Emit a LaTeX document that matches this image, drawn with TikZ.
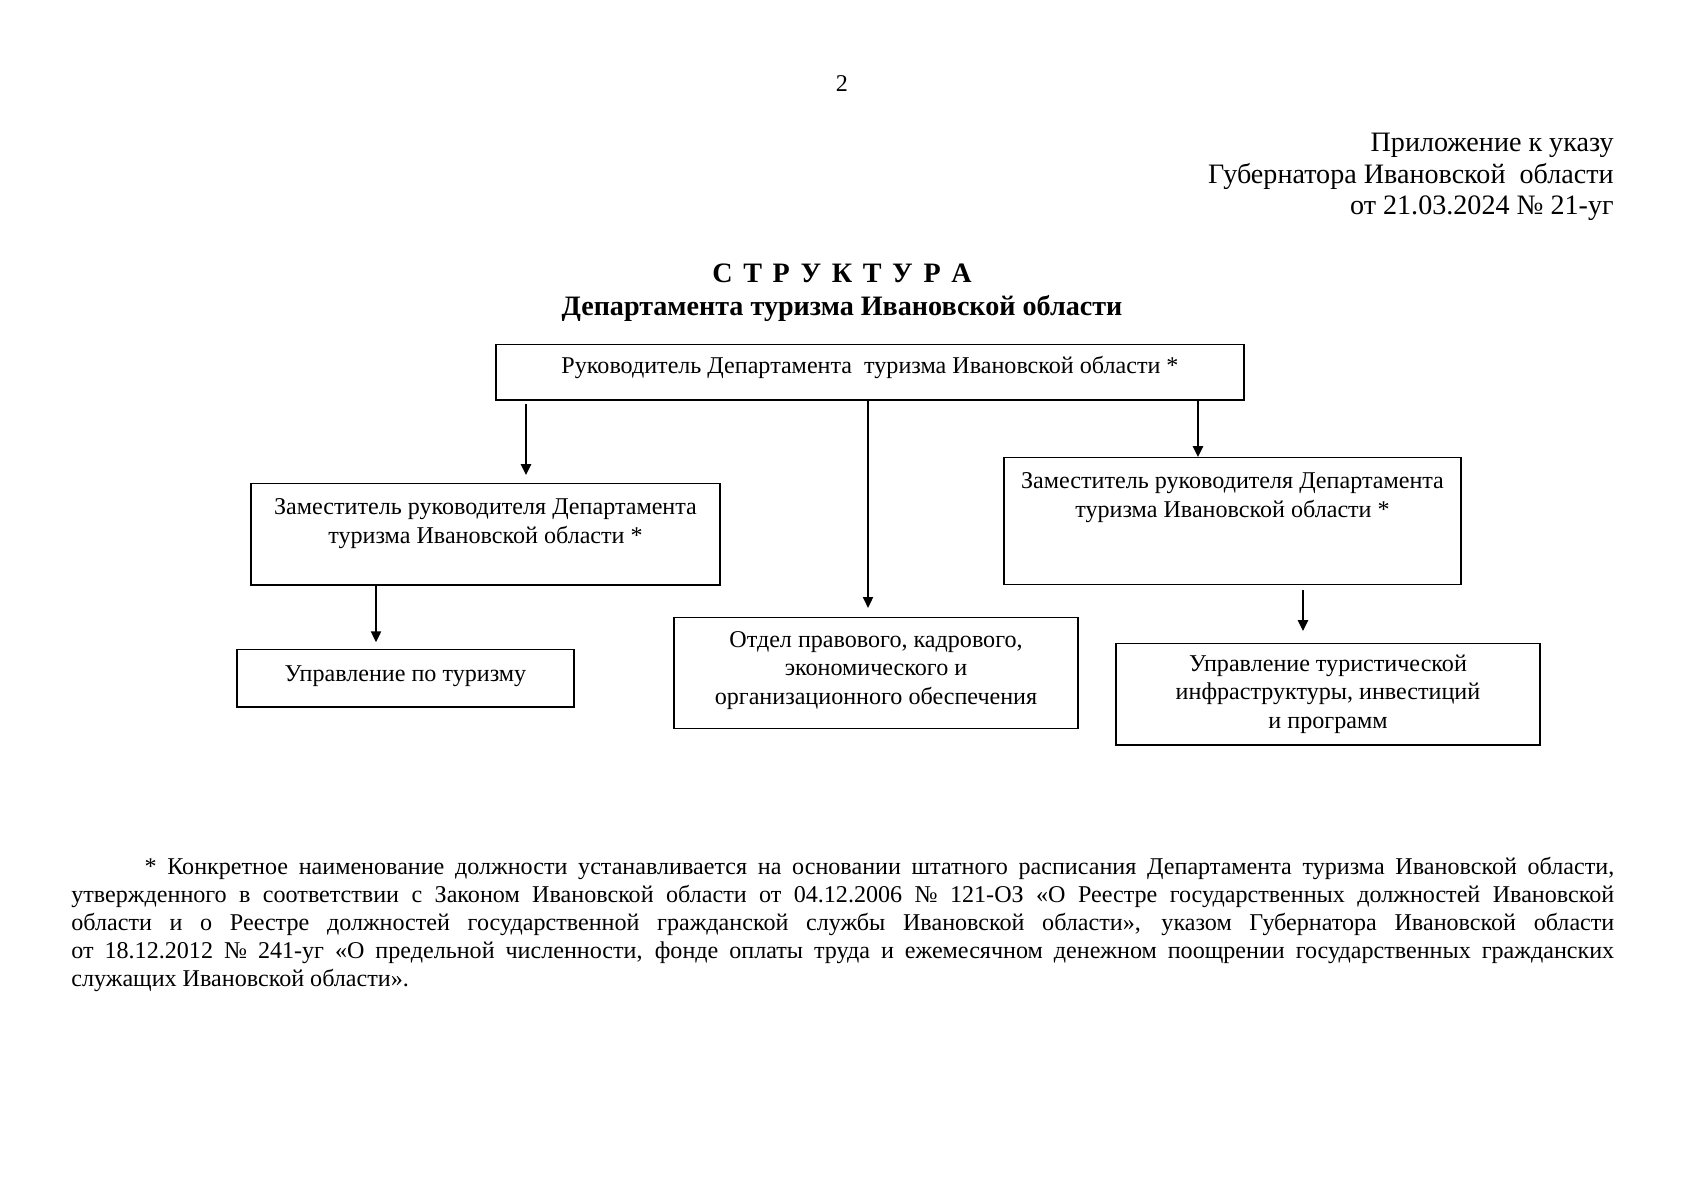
\documentclass[tikz,border=0pt]{standalone}
\usepackage{fontspec}
\setmainfont{Liberation Serif}
\usetikzlibrary{arrows.meta}
\begin{document}
\begin{tikzpicture}[x=0.175mm,y=-0.175mm,
		box/.style={draw, line width=0.7pt, anchor=north, align=center, inner sep=0pt, font=\fontsize{12}{14.3}\selectfont},
		arr/.style={-{Triangle[length=1.9mm,width=1.8mm]}, line width=0.7pt}]
			\useasboundingbox (0,0) rectangle (1697,1200);
			\node[font=\fontsize{12}{14}\selectfont] (pnum) at (842,84) {2};
			\node[anchor=base east, inner sep=0pt, font=\fontsize{14}{16}\selectfont] (app1) at (1614,151) {Приложение к указу};
			\node[anchor=base east, inner sep=0pt, font=\fontsize{14}{16}\selectfont] (app2) at (1614,183) {Губернатора Ивановской\ \ области};
			\node[anchor=base east, inner sep=0pt, font=\fontsize{14}{16}\selectfont] (app3) at (1614,214) {от 21.03.2024 № 21-уг};
			\node[anchor=base, inner sep=0pt, font=\fontsize{14}{16}\selectfont\bfseries] (title1) at (842,282) {{\spaceskip=5.3pt С Т Р У К Т У Р А}};
			\node[anchor=base, inner sep=0pt, font=\fontsize{14}{16}\selectfont\bfseries] (title2) at (842,315) {Департамента туризма Ивановской области};
			\node[box, minimum width=130.9mm, minimum height=9.7mm, text depth=8pt] (head) at (870,344) {Руководитель Департамента\ \ туризма Ивановской области *};
			\node[box, minimum width=82.1mm, minimum height=17.7mm] (dep1) at (485.5,483) {Заместитель руководителя Департамента\\туризма Ивановской области *\\[-1pt]\mbox{}};
			\node[box, minimum width=80mm, minimum height=22.2mm] (dep2) at (1232.5,457) {Заместитель руководителя Департамента\\туризма Ивановской области *\\[12pt]\mbox{}};
			\node[box, minimum width=59mm, minimum height=10mm, text depth=5pt] (tour) at (405.5,649) {Управление по туризму};
			\node[box, minimum width=70.7mm, minimum height=19.4mm] (dept) at (876,617) {Отдел правового, кадрового,\\экономического и\\организационного обеспечения\\[-9pt]\mbox{}};
			\node[box, minimum width=74.2mm, minimum height=17.7mm] (infra) at (1328,643) {Управление туристической\\инфраструктуры, инвестиций\\и программ};
			\coordinate (ax1) at (526,0);
			\coordinate (ax2) at (868,0);
			\coordinate (ax3) at (1198,0);
			\coordinate (ax4) at (376,0);
			\coordinate (ax5) at (1303,0);
			\draw[arr, shorten <=0.5mm, shorten >=1.4mm] (head.south -| ax1) -- (dep1.north -| ax1);
			\draw[arr, shorten >=1.6mm] (head.south -| ax2) -- (dept.north -| ax2);
			\draw[arr] (head.south -| ax3) -- (dep2.north -| ax3);
			\draw[arr, shorten >=1.2mm] (dep1.south -| ax4) -- (tour.north -| ax4);
			\draw[arr, shorten <=0.9mm, shorten >=2.1mm] (dep2.south -| ax5) -- (infra.north -| ax5);
			\node[anchor=base west, inner sep=0pt, text width=270mm, align=justify, font=\fontsize{12}{14}\selectfont] (note) at (71,874) {\hspace*{12.8mm}* Конкретное наименование должности устанавливается на основании штатного расписания Департамента туризма Ивановской области,\linebreak утвержденного в соответствии с Законом Ивановской области от 04.12.2006 № 121-ОЗ «О Реестре государственных должностей Ивановской\linebreak области и о Реестре должностей государственной гражданской службы Ивановской области», указом Губернатора Ивановской области\linebreak от 18.12.2012 № 241-уг «О предельной численности, фонде оплаты труда и ежемесячном денежном поощрении государственных гражданских\linebreak служащих Ивановской области».};
		\end{tikzpicture}
\end{document}
